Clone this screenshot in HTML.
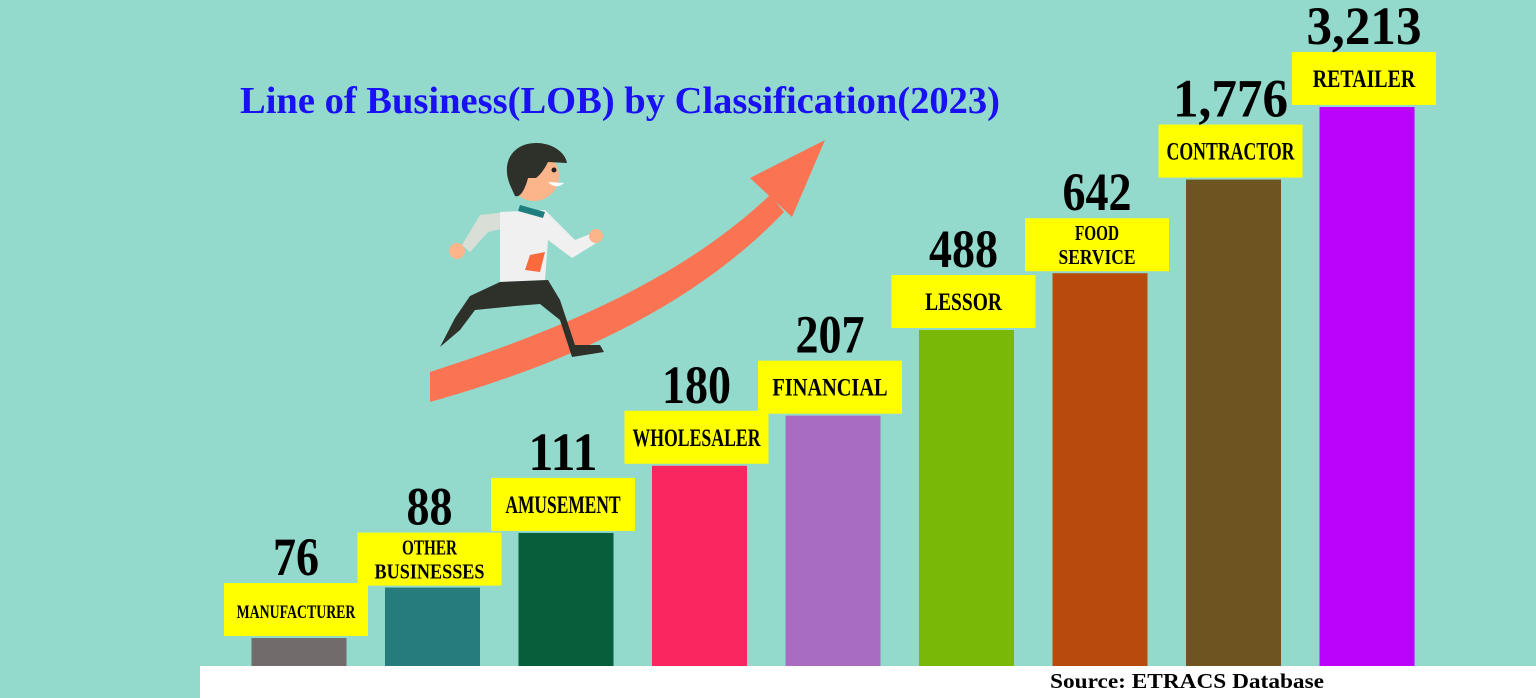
<!DOCTYPE html>
<html><head><meta charset="utf-8">
<style>
html,body{margin:0;padding:0;width:1536px;height:698px;overflow:hidden;background:#93dacd}
svg{display:block}
text{font-family:"Liberation Serif",serif;font-weight:bold}
</style></head>
<body>
<svg id="chart" width="1536" height="698" viewBox="0 0 1536 698">
  <rect x="0" y="0" width="1536" height="698" fill="#93dacd"/>
  <rect x="200" y="666" width="1336" height="32" fill="#ffffff"/>
  <text x="1050" y="688" font-size="21" fill="#000" textLength="274" lengthAdjust="spacingAndGlyphs">Source: ETRACS Database</text>
  <text x="240" y="113" font-size="38" fill="#1a10f5" textLength="760" lengthAdjust="spacingAndGlyphs">Line of Business(LOB) by Classification(2023)</text>
  <g>
    <path d="M430,372 C560,330 680,280 770,195 L784,212 C700,300 580,360 430,402 Z" fill="#fa7454"/>
    <path d="M750,178 L825,140 L792,217 Z" fill="#fa7454"/>
  </g>
  <g>
    <path d="M462,245 L480,215 L508,212 L505,228 L488,232 L470,252 Z" fill="#d9dfd6"/>
    <circle cx="457" cy="251" r="8" fill="#fcb58a"/>
    <path d="M500,212 L545,210 L575,240 L595,232 L598,242 L572,258 L548,240 L545,280 L500,282 Z" fill="#f0f0f0"/>
    <circle cx="596" cy="236" r="7" fill="#fcb58a"/>
    <path d="M520,205 L545,212 L543,218 L518,211 Z" fill="#1f7f7f"/>
    <path d="M530,255 L545,252 L540,272 L525,270 Z" fill="#fa6a3d"/>
    <path d="M500,282 L548,280 L560,300 L575,345 L600,345 L604,352 L572,357 L560,320 L540,304 L515,306 L475,310 L460,330 L440,347 L455,318 L470,296 Z" fill="#2e302a"/>
    <circle cx="534" cy="176" r="25" fill="#fcb58a"/>
    <path d="M510,185 C500,160 515,142 538,143 C556,144 566,155 567,163 L548,162 C544,170 540,175 536,178 L528,178 C525,190 520,198 515,196 Z" fill="#2e302a"/>
    <circle cx="554" cy="170" r="2.5" fill="#222"/>
    <path d="M548,182 Q556,190 564,183 Z" fill="#fff"/>
  </g>
  <g id="bars"></g>
</svg>
<script>
const categories = ["MANUFACTURER","OTHER|BUSINESSES","AMUSEMENT","WHOLESALER","FINANCIAL","LESSOR","FOOD|SERVICE","CONTRACTOR","RETAILER"];
const values = [76,88,111,180,207,488,642,1776,3213];
const valueLabels = ["76","88","111","180","207","488","642","1,776","3,213"];
const barColors = ["#716b6c","#267c7c","#065e3a","#fa2660","#a86dc3","#7ab808","#b84a0c","#6e5420","#bb02fb"];

const NS = "http://www.w3.org/2000/svg";
const baseY = 666, minTop = 638, maxTop = 107;
const xCenter = i => 299 + i * 133.5;
function yScale(v){
  const sorted = values.slice().sort((a,b)=>a-b);
  const rank = sorted.indexOf(v) / (values.length - 1);
  const lmin = Math.log10(Math.min(...values)), lmax = Math.log10(Math.max(...values));
  const lf = (Math.log10(v) - lmin) / (lmax - lmin || 1);
  const f = 0.65 * rank + 0.35 * lf;
  return minTop - f * (minTop - maxTop);
}
function mk(tag, attrs){ const e = document.createElementNS(NS, tag); for (const k in attrs) e.setAttribute(k, attrs[k]); return e; }
const g = document.getElementById("bars");
values.forEach((v, i) => {
  const cx = xCenter(i), top = yScale(v), bw = 95;
  const bar = mk("rect", {x: cx - bw/2, y: top, width: bw, height: baseY - top, fill: barColors[i]});
  
  
  g.appendChild(bar);
  const bx = cx - 75, by = top - 55;
  const box = mk("rect", {x: bx, y: by, width: 144, height: 53, fill: "#ffff00"});
  
  
  g.appendChild(box);
  const lines = categories[i].split("|");
  lines.forEach((ln, j) => {
    const fs = lines.length > 1 ? 21 : (ln.length > 10 ? 19 : 25);
    const yy = lines.length > 1 ? by + 22 + j * 24 : by + 35;
    const w = Math.min(lines.length > 1 ? 124 : 128, ln.length * (lines.length > 1 ? 11 : (ln.length > 10 ? 9.9 : 12.8)));
    const t = mk("text", {x: cx - 3, y: yy, "font-size": fs, "text-anchor": "middle", fill: "#000", textLength: w, lengthAdjust: "spacingAndGlyphs"});
    t.textContent = ln;
    
    
    g.appendChild(t);
  });
  const vt = mk("text", {x: cx - 3, y: by - 8, "font-size": 54, "text-anchor": "middle", fill: "#000", textLength: valueLabels[i].length * 23, lengthAdjust: "spacingAndGlyphs"});
  vt.textContent = valueLabels[i];
  
  
  g.appendChild(vt);
});
</script>
</body></html>
